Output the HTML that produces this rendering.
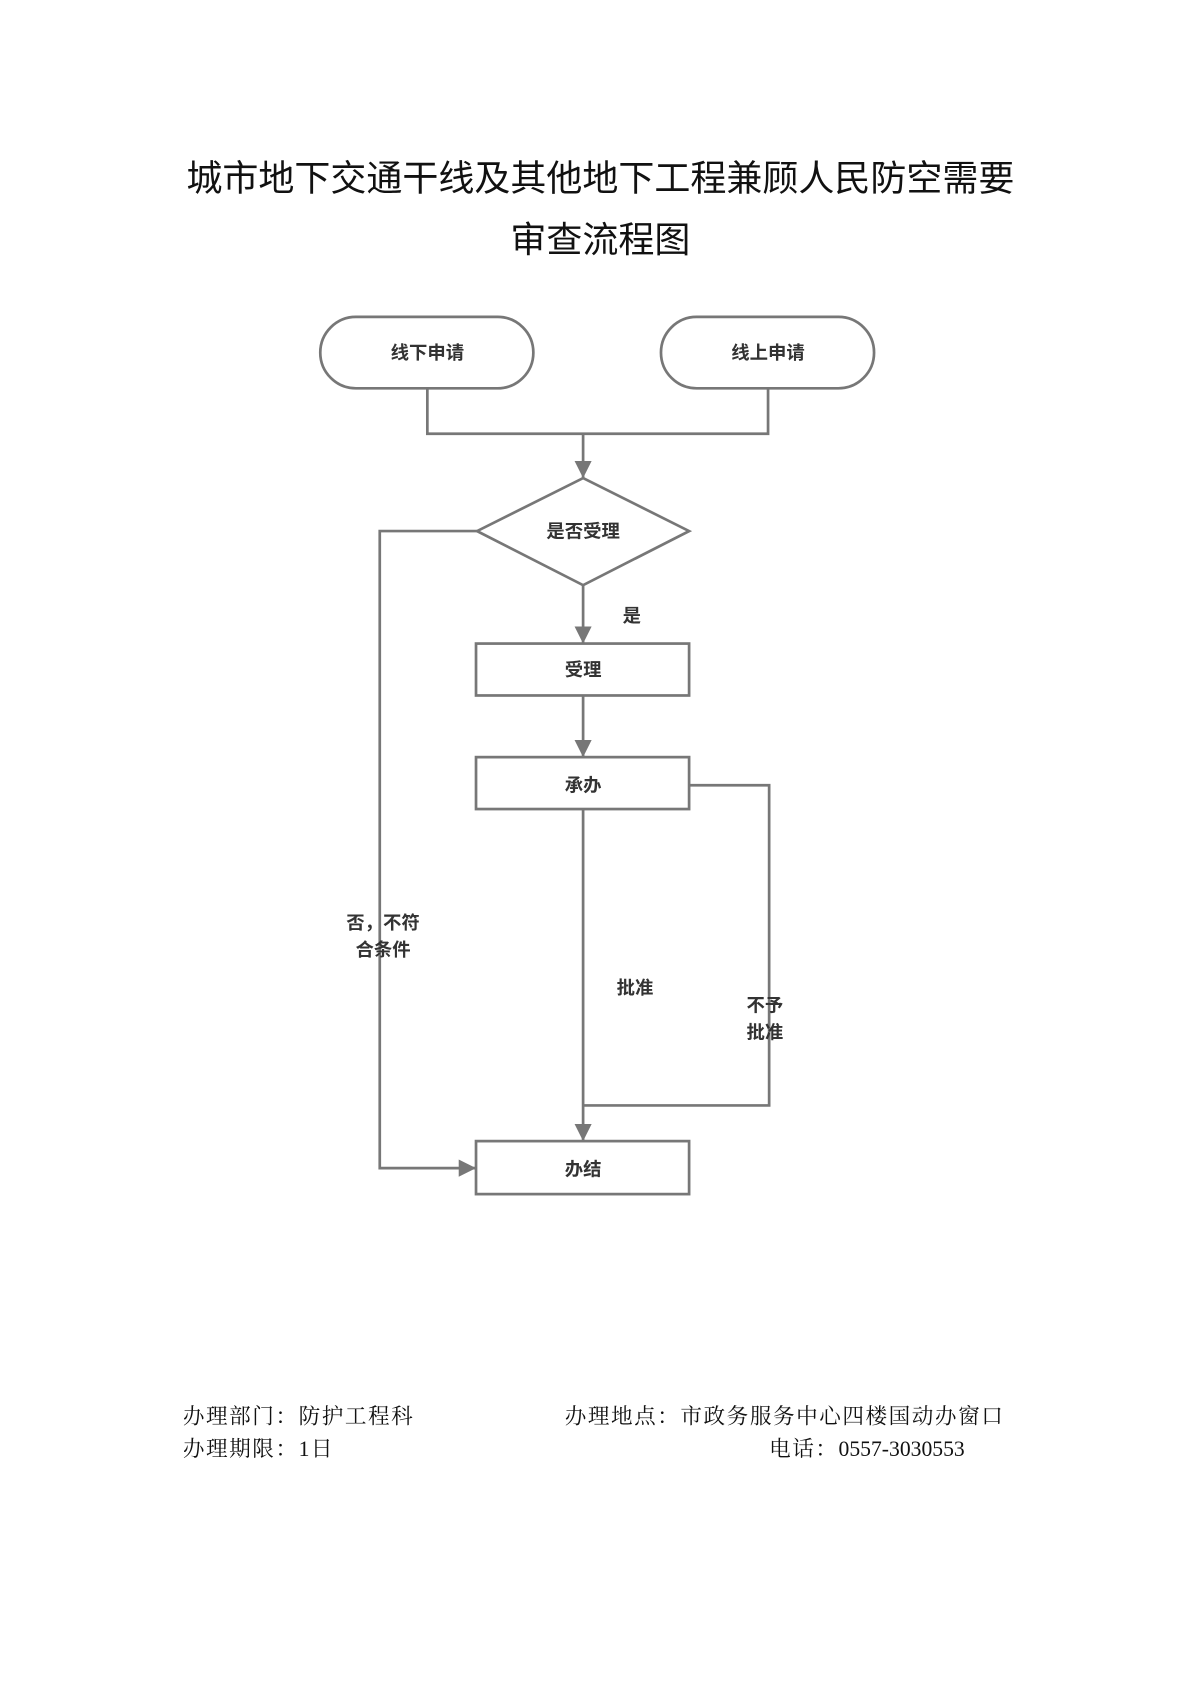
<!DOCTYPE html>
<html><head><meta charset="utf-8"><style>
html,body{margin:0;padding:0;background:#fff;}
svg{display:block;}
</style></head><body>
<svg width="1190" height="1683" viewBox="0 0 1100 1556" xmlns="http://www.w3.org/2000/svg">
<defs>
<marker id="b" viewBox="0 0 10 10" markerWidth="16" markerHeight="16" refX="10" refY="5" orient="auto" markerUnits="userSpaceOnUse"><path d="M0,0 L10,5 L0,10 z" fill="#777"/></marker></defs>
<g font-family="'Liberation Sans','Noto Sans CJK SC',sans-serif" fill="#111" text-anchor="middle">
<text x="555" y="176" font-size="33.3">城市地下交通干线及其他地下工程兼顾人民防空需要</text>
<text x="555" y="233" font-size="33.3">审查流程图</text>
</g>
<g transform="translate(-4,-3)">
<g fill="none" stroke="#777" stroke-width="2.5">
<rect x="300" y="296" width="197" height="66" rx="33"/>
<rect x="615" y="296" width="197" height="66" rx="33"/>
<polyline points="399,362 399,404 714,404 714,362"/>
<line x1="543" y1="404" x2="543" y2="445" marker-end="url(#b)"/>
<polygon points="543,445 641,494 543,544 445,494"/>
<line x1="543" y1="544" x2="543" y2="598" marker-end="url(#b)"/>
<rect x="444" y="598" width="197" height="48"/>
<line x1="543" y1="646" x2="543" y2="703" marker-end="url(#b)"/>
<rect x="444" y="703" width="197" height="48"/>
<polyline points="641,729 715,729 715,1025 543,1025"/>
<line x1="543" y1="751" x2="543" y2="1058" marker-end="url(#b)"/>
<rect x="444" y="1058" width="197" height="49"/>
<polyline points="445,494 355,494 355,1083 444,1083" marker-end="url(#b)"/>
</g>
<g font-family="'Liberation Sans','Noto Sans CJK SC',sans-serif" fill="#333" font-size="17" text-anchor="middle" font-weight="bold">
<text x="399" y="335">线下申请</text>
<text x="714" y="335">线上申请</text>
<text x="543" y="500">是否受理</text>
<text x="588" y="578">是</text>
<text x="543" y="628">受理</text>
<text x="543" y="735">承办</text>
<text x="543" y="1090">办结</text>
<text x="358" y="862">否，不符</text>
<text x="358" y="887">合条件</text>
<text x="591" y="922">批准</text>
<text x="711" y="938">不予</text>
<text x="711" y="963">批准</text>
</g>
</g>
<g font-family="'Liberation Serif','Noto Serif CJK SC',serif" fill="#111" font-size="20">
<text x="169" y="1316" letter-spacing="1.4">办理部门：防护工程科</text>
<text x="522" y="1316" letter-spacing="1.4">办理地点：市政务服务中心四楼国动办窗口</text>
<text x="169" y="1346" letter-spacing="1.4">办理期限：1日</text>
<text x="711" y="1346" letter-spacing="1.4">电话：<tspan letter-spacing="0">0557-3030553</tspan></text>
</g>
</svg>
</body></html>
